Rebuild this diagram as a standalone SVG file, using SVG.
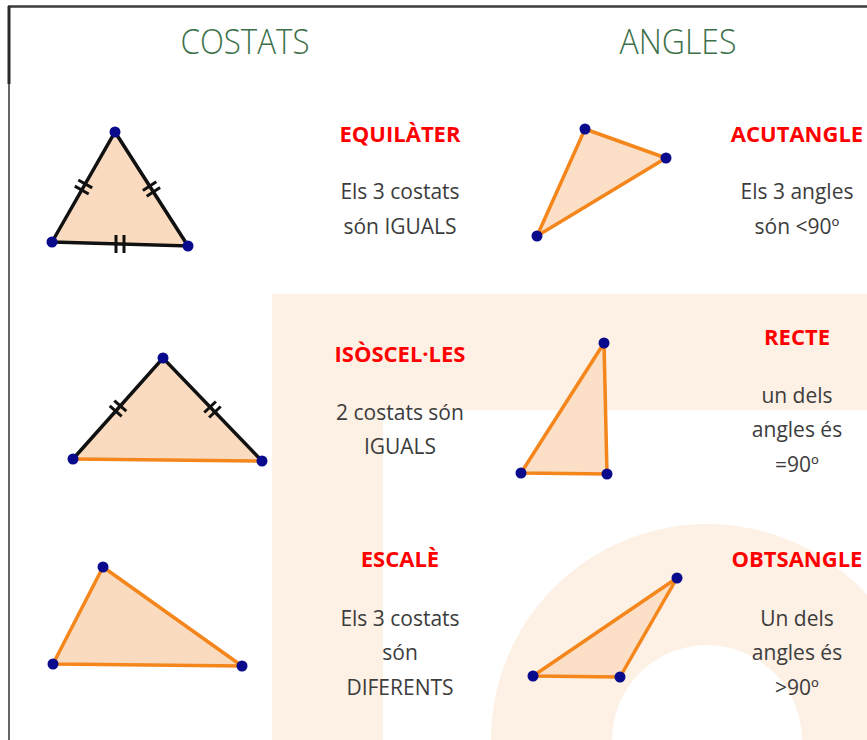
<svg xmlns="http://www.w3.org/2000/svg" width="867" height="740" viewBox="0 0 867 740">
<style>
.title{font-family:"Open Sans","Liberation Sans",sans-serif;font-weight:300;font-size:34px;fill:#3c7049;text-anchor:middle}
.head{font-family:"Open Sans","Liberation Sans",sans-serif;font-weight:700;font-size:22px;fill:#ff0000;text-anchor:middle}
.body{font-family:"Open Sans","Liberation Sans",sans-serif;font-size:21px;fill:#3c3c3c;text-anchor:middle}
.triL{fill:#fadbbf;stroke:none}
.triR{fill:#fbdfc6;stroke:none}
.blk{stroke:#111;stroke-width:3.5;fill:none;stroke-linecap:round}
.org{stroke:#f4861c;stroke-width:3.5;fill:none;stroke-linecap:round;stroke-linejoin:round}
.tick{stroke:#111;stroke-width:3;fill:none}
.dot{fill:#0a0a8c}
</style>
<rect width="867" height="740" fill="#ffffff"/>
<g id="background">
<path d="M272 294H867V410H383V740H272Z" fill="#fdf0e4"/>
<path d="M491 740A216 216 0 0 1 923 740H802A95 95 0 0 0 612 740Z" fill="#fdf0e4"/>
</g>
<g id="frame">
<line x1="8" y1="6.5" x2="867" y2="6.5" stroke="#3a3a3a" stroke-width="2.5"/>
<line x1="9" y1="6" x2="9" y2="84" stroke="#2a2a2a" stroke-width="3"/>
<line x1="9" y1="84" x2="9" y2="740" stroke="#666" stroke-width="2"/>
</g>
<g id="titles">
<text class="title" x="245" y="54" textLength="129" lengthAdjust="spacingAndGlyphs">COSTATS</text>
<text class="title" x="678" y="54" textLength="117" lengthAdjust="spacingAndGlyphs">ANGLES</text>
</g>
<g id="equilater">
<polygon class="triL" points="115,132 52,242 188,246"/>
<polyline class="blk" points="52,242 115,132 188,246 52,242"/>
<line class="tick" x1="74.8" y1="186.1" x2="88.7" y2="194"/>
<line class="tick" x1="78.3" y1="180" x2="92.2" y2="187.9"/>
<line class="tick" x1="146.7" y1="196.2" x2="160.1" y2="187.6"/>
<line class="tick" x1="142.9" y1="190.4" x2="156.3" y2="181.8"/>
<line class="tick" x1="116" y1="235" x2="116" y2="253"/>
<line class="tick" x1="124" y1="235" x2="124" y2="253"/>
<circle class="dot" cx="115" cy="132" r="5.5"/>
<circle class="dot" cx="52" cy="242" r="5.5"/>
<circle class="dot" cx="188" cy="246" r="5.5"/>
<text class="head" x="400" y="142">EQUILÀTER</text>
<text class="body" x="400" y="199">Els 3 costats</text>
<text class="body" x="400" y="234">són IGUALS</text>
</g>
<g id="isosceles">
<polygon class="triL" points="163,358 73,459 262,461"/>
<line class="org" x1="73" y1="459" x2="262" y2="461"/>
<polyline class="blk" points="73,459 163,358 262,461"/>
<line class="tick" x1="109.7" y1="405.8" x2="121.7" y2="416.4"/>
<line class="tick" x1="114.3" y1="400.6" x2="126.3" y2="411.2"/>
<line class="tick" x1="209.1" y1="417.5" x2="220.7" y2="406.5"/>
<line class="tick" x1="204.3" y1="412.5" x2="215.9" y2="401.5"/>
<circle class="dot" cx="163" cy="358" r="5.5"/>
<circle class="dot" cx="73" cy="459" r="5.5"/>
<circle class="dot" cx="262" cy="461" r="5.5"/>
<text class="head" x="400" y="362">ISÒSCEL·LES</text>
<text class="body" x="400" y="420">2 costats són</text>
<text class="body" x="400" y="454">IGUALS</text>
</g>
<g id="escale">
<polygon class="triL" points="103,567 53,664 242,666"/>
<polygon class="org" points="103,567 53,664 242,666"/>
<circle class="dot" cx="103" cy="567" r="5.5"/>
<circle class="dot" cx="53" cy="664" r="5.5"/>
<circle class="dot" cx="242" cy="666" r="5.5"/>
<text class="head" x="400" y="567">ESCALÈ</text>
<text class="body" x="400" y="626">Els 3 costats</text>
<text class="body" x="400" y="660">són</text>
<text class="body" x="400" y="695">DIFERENTS</text>
</g>
<g id="acutangle">
<polygon class="triR" points="585,129 666,158 537,236"/>
<polygon class="org" points="585,129 666,158 537,236"/>
<circle class="dot" cx="585" cy="129" r="5.5"/>
<circle class="dot" cx="666" cy="158" r="5.5"/>
<circle class="dot" cx="537" cy="236" r="5.5"/>
<text class="head" x="797" y="142">ACUTANGLE</text>
<text class="body" x="797" y="199">Els 3 angles</text>
<text class="body" x="797" y="234">són &lt;90º</text>
</g>
<g id="recte">
<polygon class="triR" points="604,343 521,473 607,474"/>
<polygon class="org" points="604,343 521,473 607,474"/>
<circle class="dot" cx="604" cy="343" r="5.5"/>
<circle class="dot" cx="521" cy="473" r="5.5"/>
<circle class="dot" cx="607" cy="474" r="5.5"/>
<text class="head" x="797" y="345">RECTE</text>
<text class="body" x="797" y="403">un dels</text>
<text class="body" x="797" y="437">angles és</text>
<text class="body" x="797" y="472">=90º</text>
</g>
<g id="obtusangle">
<polygon class="triR" points="677,578 533,676 620,677"/>
<polygon class="org" points="677,578 533,676 620,677"/>
<circle class="dot" cx="677" cy="578" r="5.5"/>
<circle class="dot" cx="533" cy="676" r="5.5"/>
<circle class="dot" cx="620" cy="677" r="5.5"/>
<text class="head" x="797" y="567">OBTSANGLE</text>
<text class="body" x="797" y="626">Un dels</text>
<text class="body" x="797" y="660">angles és</text>
<text class="body" x="797" y="695">&gt;90º</text>
</g>
</svg>
